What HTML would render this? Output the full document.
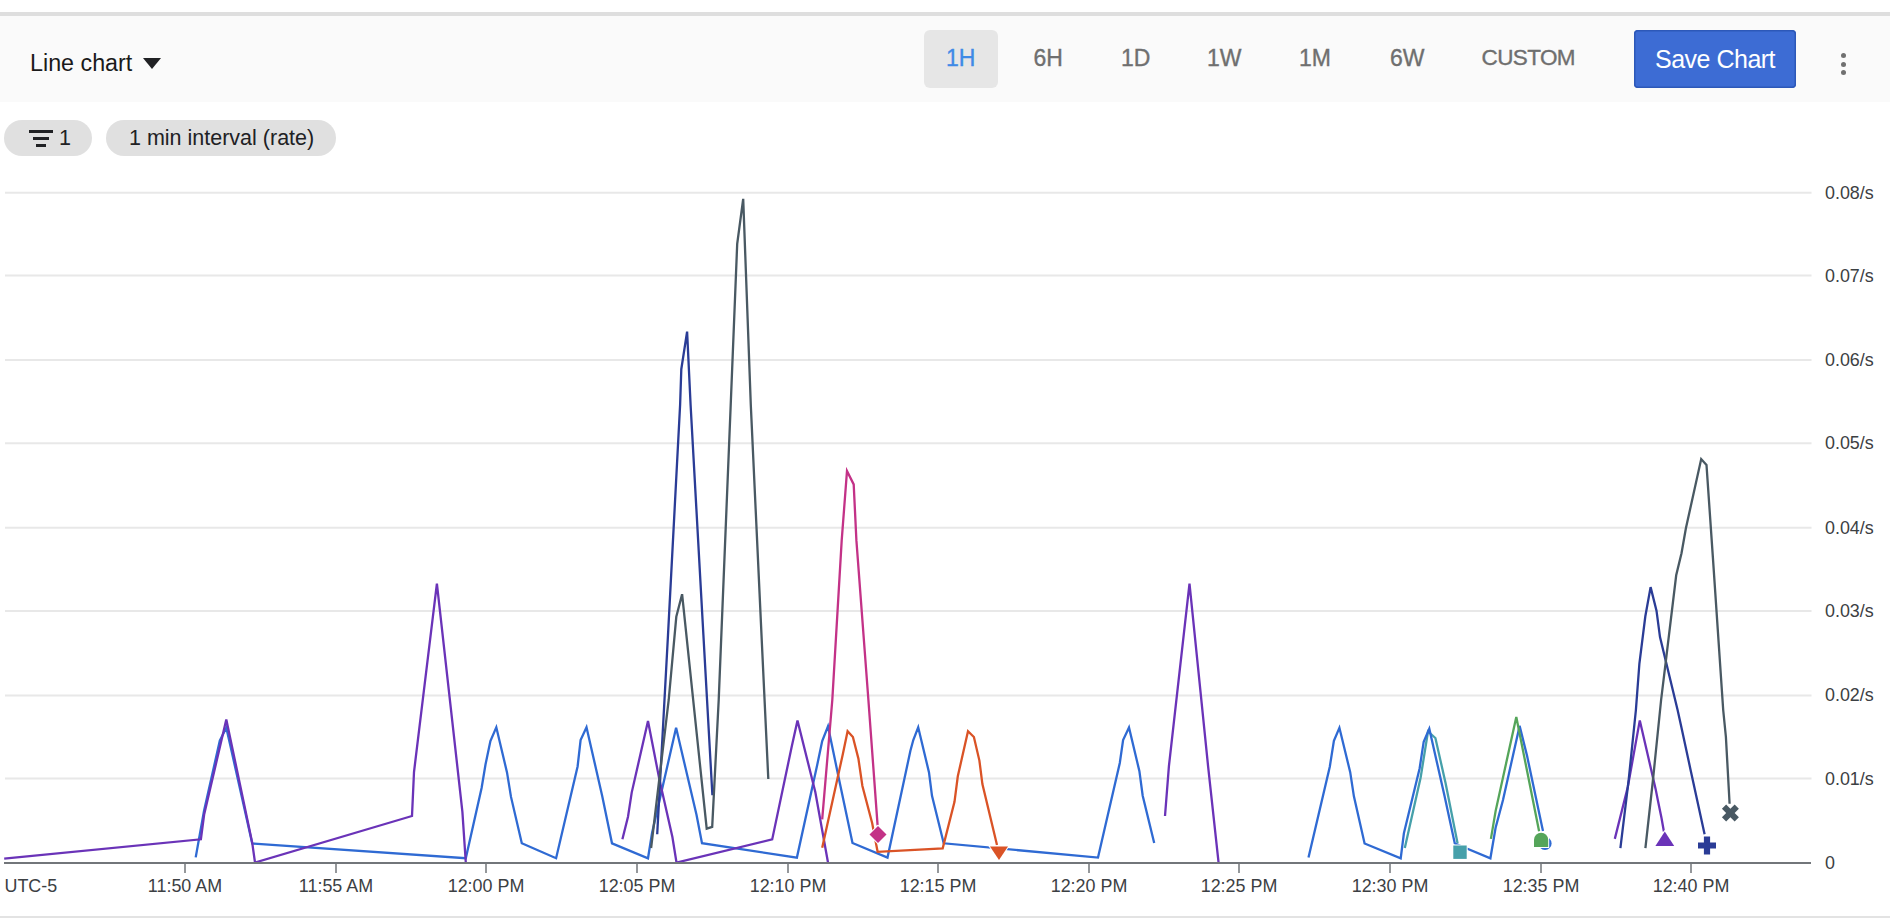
<!DOCTYPE html>
<html><head><meta charset="utf-8">
<style>
html,body{margin:0;padding:0;background:#fff;width:1890px;height:918px;overflow:hidden;position:relative;font-family:"Liberation Sans",sans-serif;}
.abs{position:absolute;}
#topbar{left:0;top:12px;width:1890px;height:4px;background:#dedede;}
#toolbar{left:0;top:16px;width:1890px;height:86px;background:#fafafa;}
.t{position:absolute;white-space:nowrap;line-height:1;}
#lc{left:30px;top:52px;font-size:23.3px;color:#1a1a1a;}
#caret{left:143px;top:58px;width:0;height:0;border-left:9px solid transparent;border-right:9px solid transparent;border-top:11px solid #202124;}
#sel{left:924px;top:30px;width:74px;height:58px;background:#e6e6e6;border-radius:6px;}
.rb{font-size:23px;color:#6f6f6f;top:46.5px;-webkit-text-stroke:0.35px currentColor;}
#save{left:1634px;top:30px;width:162px;height:58px;background:#3d6cd4;border-radius:4px;box-shadow:inset 0 0 0 1.5px #2d58b8;}
#savet{left:1655px;top:46.5px;font-size:25px;letter-spacing:-0.5px;color:#fff;}
.dot{position:absolute;width:5px;height:5px;border-radius:50%;background:#707070;left:1841px;}
.chip{position:absolute;top:120px;height:36px;background:#e0e0e0;border-radius:18px;}
#bottom{left:0;top:916px;width:1890px;height:2px;background:#e3e3e3;}
svg{position:absolute;left:0;top:0;}
</style></head><body>
<div class="abs" id="topbar"></div>
<div class="abs" id="toolbar"></div>
<div class="t" id="lc">Line chart</div>
<div class="abs" id="caret"></div>
<div class="abs" id="sel"></div>
<div class="t rb" style="left:946px;color:#3f8ae6;">1H</div>
<div class="t rb" style="left:1033.5px;">6H</div>
<div class="t rb" style="left:1121px;">1D</div>
<div class="t rb" style="left:1207px;">1W</div>
<div class="t rb" style="left:1299px;">1M</div>
<div class="t rb" style="left:1390px;">6W</div>
<div class="t rb" style="left:1481.5px;font-size:22.5px;letter-spacing:-0.6px;">CUSTOM</div>
<div class="abs" id="save"></div>
<div class="t" id="savet">Save Chart</div>
<div class="dot" style="top:53.3px"></div>
<div class="dot" style="top:61.5px"></div>
<div class="dot" style="top:69.7px"></div>
<div class="chip" style="left:4px;width:88px;"></div>
<div class="chip" style="left:106px;width:230px;"></div>
<div class="t" style="left:59px;top:128px;font-size:21.5px;color:#202124;">1</div>
<div class="t" style="left:129px;top:128px;font-size:21.5px;color:#202124;">1 min interval (rate)</div>
<div class="abs" style="left:29px;top:130px;width:24px;height:3px;background:#202124;"></div>
<div class="abs" style="left:33px;top:137px;width:16px;height:3px;background:#202124;"></div>
<div class="abs" style="left:36px;top:144px;width:10px;height:3px;background:#202124;"></div>
<div class="abs" id="bottom"></div>
<svg width="1890" height="918" viewBox="0 0 1890 918">
<g stroke="#e8e8e8" stroke-width="2">
<line x1="5" y1="192.8" x2="1811.5" y2="192.8"/>
<line x1="5" y1="275.6" x2="1811.5" y2="275.6"/>
<line x1="5" y1="359.9" x2="1811.5" y2="359.9"/>
<line x1="5" y1="443.2" x2="1811.5" y2="443.2"/>
<line x1="5" y1="527.7" x2="1811.5" y2="527.7"/>
<line x1="5" y1="610.9" x2="1811.5" y2="610.9"/>
<line x1="5" y1="695.4" x2="1811.5" y2="695.4"/>
<line x1="5" y1="778.5" x2="1811.5" y2="778.5"/>
</g>
<g font-family="Liberation Sans" font-size="17.9" fill="#3c4043">
<text x="1825" y="198.8">0.08/s</text>
<text x="1825" y="281.6">0.07/s</text>
<text x="1825" y="365.9">0.06/s</text>
<text x="1825" y="449.2">0.05/s</text>
<text x="1825" y="533.7">0.04/s</text>
<text x="1825" y="616.9">0.03/s</text>
<text x="1825" y="701.4">0.02/s</text>
<text x="1825" y="784.5">0.01/s</text>
<text x="1825" y="869">0</text>
</g>
<g id="lines" fill="none" stroke-width="2.3" stroke-linejoin="miter" stroke-miterlimit="4">
<polyline stroke="#46a0aa" points="1404.8,848.1 1420.6,777.8 1428,731.5 1435.4,738 1445.6,783.3 1457.6,843.5"/>
<polyline stroke="#2f6ad3" points="195.7,857.4 204,811 219.8,740.7 226.3,727.8 230,744 252.2,843.5 465.8,858.2 481.6,788 485.5,764.5 490.4,741 496.3,727.3 507,772.4 511,796.9 521.8,843.3 556.1,858.2 577.6,766.5 580.6,740 586.5,727.3 602.2,795.9 612,843.3 648,858.3 652,833.3 676.1,727.8 696.5,814.8 702,843.2 796.9,857.6 817.3,764.5 822.2,741 828,726.3 838.8,778.2 852.5,843 887.5,857.6 910.4,750.8 913.3,740 918.2,727.3 929,772.4 932,795.9 943.7,843.3 1098,857.6 1119.8,763 1123.1,740.1 1129,727.5 1139.4,771.2 1142.7,795.7 1154.2,843.1"/>
<polyline stroke="#2f6ad3" points="1308.5,857.4 1329.8,766.7 1333.9,740.7 1339.4,727.8 1350.2,772.2 1353.9,796.3 1364.6,843.5 1400.7,858.3 1403.9,833.3 1419.6,768.5 1423.7,741.7 1429.3,728.7 1444.6,796.3 1454.8,843.5 1490.4,858.3 1495.6,827.8 1503,800 1519.6,725.9 1527,755.6 1541.9,825.9 1543,831"/>
<polyline stroke="#6a33b8" points="4.2,858.7 200.9,839.3 204.1,814.8 226.3,719.4 252.2,842.6 255,862.5 412,816 414,772 436.9,583.7 462.4,811.8 465.8,862.5"/>
<polyline stroke="#6a33b8" points="622.4,839.3 628,816.7 631.7,792.6 648,721 659.4,779.6 672.4,837 676.5,862.5 772.2,839.4 791.8,746.3 797.5,720.5 815.3,792 828,862.5"/>
<polyline stroke="#6a33b8" points="1165,816 1168.9,766.3 1189.5,583.7 1208.1,766.3 1218.6,862.8"/>
<polyline stroke="#6a33b8" points="1614.8,838.9 1627.8,787 1639.8,720.4 1655.6,788.9 1658,801 1661.5,818 1663.9,831.5"/>
<polyline stroke="#55a55a" points="1490.9,838.9 1495.6,811.1 1516.3,717 1539.1,831.2"/>
<polyline stroke="#da5326" points="822.2,847.8 842.7,754.7 847.6,731.2 852.9,737 858.4,758.6 862.4,786 872.2,823.3 877.6,851.8 942.7,848.4 954.5,801.8 957.8,776.3 968,731.2 973.9,737 979.4,760.6 982.4,784.1 997,845"/>
<polyline stroke="#c33287" points="822.2,819.4 832.3,700 841.7,540.4 847,471 853.7,484.4 856.4,540.4 868.4,700 877.6,825.3"/>
<polyline stroke="#2a3c96" points="657.2,834.3 668,635 680.1,405 681.3,369.2 687.1,331.6 690.6,405 703.4,635 712.4,795.3"/>
<polyline stroke="#2a3c96" points="1620.4,848.1 1628.7,779.6 1635.9,710 1639.4,663.5 1645.3,616.5 1650.6,587.1 1656.5,610.6 1660,637.1 1677.6,710 1681.5,727.8 1690.7,770.4 1704.6,834.3"/>
<polyline stroke="#495963" points="651.1,848 668.7,700 676.3,616.8 682.1,594.2 706.7,828.7 712.2,826.9 718.7,700 730.7,405 737.2,243.9 743.2,198.8 750.8,405 761.5,635 768.3,779"/>
<polyline stroke="#495963" points="1645.4,848.1 1652.8,781.5 1661.1,700 1665.9,660.6 1676.2,575.3 1681.5,553.2 1685.9,528.2 1701.2,459.1 1706.5,465 1712.9,557.6 1723.2,710 1725.9,737 1729.6,803.7"/>
</g>
<g stroke="#fff" stroke-width="2" style="paint-order:stroke">
<path fill="#c33287" d="M878 826 L886.5 834.5 L878 843 L869.5 834.5Z"/>
<path fill="#da5326" d="M990 846.5 L1008 846.5 L999 860Z"/>
<rect fill="#46a0aa" x="1453.3" y="845.5" width="13.4" height="13.4"/>
<circle fill="#2f6ad3" cx="1545" cy="843.4" r="6.6"/>
<path fill="#55a55a" d="M1534 846.9 L1534 839.7 A7.1 7.1 0 0 1 1548.2 839.7 L1548.2 846.9Z"/>
<path fill="#6a33b8" d="M1664.8 831.5 L1674.2 846 L1655.4 846Z"/>
<path fill="#2a3c96" d="M1703.9 836.5h6.2v5.9h5.9v6.2h-5.9v5.9h-6.2v-5.9h-5.9v-6.2h5.9Z"/>
<g transform="translate(1730.4 813) rotate(45)"><path fill="#495963" d="M-3 -9h6v6h6v6h-6v6h-6v-6h-6v-6h6Z"/></g>
</g>
<line x1="4" y1="863" x2="1811" y2="863" stroke="#72767a" stroke-width="2"/>
<g stroke="#72767a" stroke-width="1.5">
<line x1="185" y1="864" x2="185" y2="873"/>
<line x1="336" y1="864" x2="336" y2="873"/>
<line x1="486" y1="864" x2="486" y2="873"/>
<line x1="637" y1="864" x2="637" y2="873"/>
<line x1="788" y1="864" x2="788" y2="873"/>
<line x1="938" y1="864" x2="938" y2="873"/>
<line x1="1089" y1="864" x2="1089" y2="873"/>
<line x1="1239" y1="864" x2="1239" y2="873"/>
<line x1="1390" y1="864" x2="1390" y2="873"/>
<line x1="1541" y1="864" x2="1541" y2="873"/>
<line x1="1691" y1="864" x2="1691" y2="873"/>
</g>
<g font-family="Liberation Sans" font-size="17.9" fill="#3c4043" text-anchor="middle">
<text x="4.5" y="892" text-anchor="start">UTC-5</text>
<text x="185" y="892">11:50 AM</text>
<text x="336" y="892">11:55 AM</text>
<text x="486" y="892">12:00 PM</text>
<text x="637" y="892">12:05 PM</text>
<text x="788" y="892">12:10 PM</text>
<text x="938" y="892">12:15 PM</text>
<text x="1089" y="892">12:20 PM</text>
<text x="1239" y="892">12:25 PM</text>
<text x="1390" y="892">12:30 PM</text>
<text x="1541" y="892">12:35 PM</text>
<text x="1691" y="892">12:40 PM</text>
</g>
</svg>
</body></html>
